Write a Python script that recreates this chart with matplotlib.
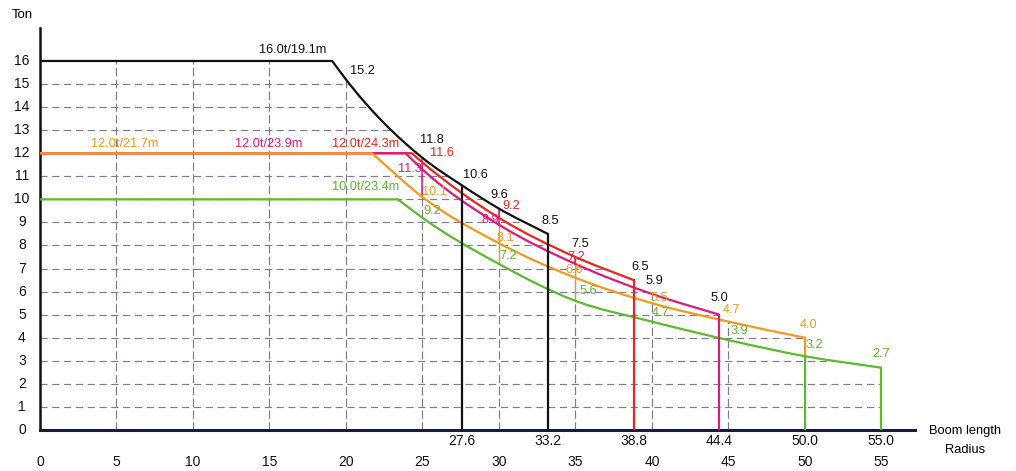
import numpy as np
import matplotlib
matplotlib.use("Agg")
import matplotlib.pyplot as plt
from matplotlib.patches import Polygon, PathPatch
from matplotlib.path import Path

plt.rcParams['font.family'] = ['Liberation Sans', 'DejaVu Sans']

# ---- data (radius m, load t) ----
black_r = [0, 19.1, 20, 25, 27.6, 30, 33.2]
black_t = [16, 16, 15.2, 11.8, 10.6, 9.6, 8.5]
red_r = [0, 24.3, 25, 30, 35, 38.8]
red_t = [12, 12, 11.6, 9.2, 7.5, 6.5]
magenta_r = [0, 23.9, 25, 30, 35, 40, 44.4]
magenta_t = [12, 12, 11.3, 8.9, 7.2, 5.9, 5.0]
orange_r = [0, 21.7, 25, 30, 35, 40, 45, 50]
orange_t = [12, 12, 10.1, 8.1, 6.6, 5.5, 4.7, 4.0]
green_r = [0, 23.4, 25, 30, 35, 40, 45, 50, 55]
green_t = [10, 10, 9.2, 7.2, 5.6, 4.7, 3.9, 3.2, 2.7]

boom_lengths = [27.6, 33.2, 38.8, 44.4, 50.0, 55.0]
boom_labels = ['27.6', '33.2', '38.8', '44.4', '50.0', '55.0']
radius_ticks = [0, 5, 10, 15, 20, 25, 30, 35, 40, 45, 50, 55]
ton_ticks = list(range(0, 17))

head_labels = ['16.0t/19.1m', '12.0t/21.7m', '12.0t/23.9m', '12.0t/24.3m', '10.0t/23.4m']

BLACK = '#111111'
RED = '#e8261c'
MAG = '#d81b84'
ORA = '#f39a1e'
GRN = '#5db92f'
GRID = '#7d7a92'

W, H = 1016, 471
fig = plt.figure(figsize=(W / 100, H / 100), dpi=100)
ax = fig.add_axes([40 / W, 41 / H, 875 / W, 402 / H])
ax.set_xlim(0, 57.2)
ax.set_ylim(0, 17.43)
for s in ['top', 'right']:
    ax.spines[s].set_visible(False)
ax.spines['left'].set_linewidth(1.8)
ax.spines['left'].set_color(BLACK)
ax.spines['bottom'].set_linewidth(2.2)
ax.spines['bottom'].set_color('#1a1a3a')
ax.set_xticks([])
ax.set_yticks([])

curves = [(black_r, black_t, BLACK), (red_r, red_t, RED), (magenta_r, magenta_t, MAG),
          (orange_r, orange_t, ORA), (green_r, green_t, GRN)]


def smooth_path(r, t):
    """Straight flat part, then a smooth cubic Bezier path through the points."""
    x = np.asarray(r, float)
    y = np.asarray(t, float)
    verts = [(x[0], y[0]), (x[1], y[1])]
    codes = [Path.MOVETO, Path.LINETO]
    xs, ys = x[1:], y[1:]
    d = np.diff(ys) / np.diff(xs)
    m = np.empty(len(xs))
    m[0] = d[0]
    m[-1] = d[-1]
    for i in range(1, len(xs) - 1):
        h0, h1 = xs[i] - xs[i - 1], xs[i + 1] - xs[i]
        m[i] = (d[i - 1] * h1 + d[i] * h0) / (h0 + h1)
    for i in range(len(xs) - 1):
        h = xs[i + 1] - xs[i]
        verts += [(xs[i] + h / 3, ys[i] + m[i] * h / 3),
                  (xs[i + 1] - h / 3, ys[i + 1] - m[i + 1] * h / 3),
                  (xs[i + 1], ys[i + 1])]
        codes += [Path.CURVE4] * 3
    return Path(verts, codes)


# envelope for clipping grid
paths = [smooth_path(r, t) for r, t, c in curves]
gx = np.linspace(0, 55, 1101)
env = np.zeros_like(gx)
for p in paths:
    pts = p.to_polygons(closed_only=False)[0]
    order = np.argsort(pts[:, 0])
    vals = np.interp(gx, pts[order, 0], pts[order, 1], right=0.0)
    env = np.maximum(env, vals)
poly = Polygon(np.column_stack([np.r_[gx, 55, 0], np.r_[env, 0, 0]]), closed=True,
               transform=ax.transData, fill=False, edgecolor='none')
ax.add_patch(poly)

for yv in range(1, 16):
    ln, = ax.plot([0, 57], [yv, yv], color=GRID, lw=0.85, dashes=(6, 4), zorder=1)
    ln.set_clip_path(poly)
for xv in radius_ticks[1:]:
    ln, = ax.plot([xv, xv], [0, 16], color=GRID, lw=0.85, dashes=(7, 3), zorder=1)
    ln.set_clip_path(poly)

# coloured short verticals between curves at grid radii
for xv in [25, 30, 35]:
    top = np.interp(xv, black_r + [60], black_t + [0]) if xv < 33.2 else np.interp(xv, red_r, red_t)
    mv = np.interp(xv, magenta_r, magenta_t)
    ov = np.interp(xv, orange_r, orange_t)
    gv = np.interp(xv, green_r, green_t)
    low_m = ov if xv == 25 else mv
    ax.plot([xv, xv], [low_m, top], color=MAG, lw=1.1, zorder=2)
    if xv != 25:
        ax.plot([xv, xv], [gv, mv], color=ORA, lw=1.0, zorder=2)

# curves
for p, (r, t, c) in zip(paths, curves):
    ax.add_patch(PathPatch(p, fill=False, edgecolor=c, lw=1.6, zorder=3,
                           joinstyle='round', capstyle='butt'))

# drop lines at boom-length radii
ax.plot([black_r[4], black_r[4]], [0, black_t[4]], color=BLACK, lw=1.6, zorder=3)
ax.plot([black_r[-1], black_r[-1]], [0, black_t[-1]], color=BLACK, lw=1.6, zorder=3)
ax.plot([red_r[-1], red_r[-1]], [0, red_t[-1]], color=RED, lw=1.6, zorder=3)
ax.plot([magenta_r[-1], magenta_r[-1]], [0, magenta_t[-1]], color=MAG, lw=1.6, zorder=3)
ax.plot([orange_r[-1], orange_r[-1]], [green_t[-2], orange_t[-1]], color=ORA, lw=1.6, zorder=3)
ax.plot([green_r[-2], green_r[-2]], [0, green_t[-2]], color=GRN, lw=1.6, zorder=3)
ax.plot([green_r[-1], green_r[-1]], [0, green_t[-1]], color=GRN, lw=1.6, zorder=3)

FS = 9.2


def lab(x, y, txt, color, dx, dy):
    ax.annotate(txt, xy=(x, y), xytext=(dx, dy), textcoords='offset pixels',
                ha='center', va='center', color=color, fontsize=FS, zorder=5)


# headline labels
lab(black_r[1], black_t[1], head_labels[0], BLACK, -39, 11)
lab(orange_r[1], orange_t[1], head_labels[1], ORA, -247, 9)
lab(magenta_r[1], magenta_t[1], head_labels[2], MAG, -137, 9)
lab(red_r[1], red_t[1], head_labels[3], RED, -46, 9)
lab(green_r[1], green_t[1], head_labels[4], GRN, -32, 12)

fmt = lambda v: f"{v:.1f}"
lab(black_r[2], black_t[2], fmt(black_t[2]), BLACK, 16, 8)
lab(black_r[3], black_t[3], fmt(black_t[3]), BLACK, 9, 18)
lab(black_r[4], black_t[4], fmt(black_t[4]), BLACK, 13, 11)
lab(black_r[5], black_t[5], fmt(black_t[5]), BLACK, 0, 14)
lab(black_r[6], black_t[6], fmt(black_t[6]), BLACK, 2, 13)

lab(red_r[2], red_t[2], fmt(red_t[2]), RED, 19, 9)
lab(red_r[3], red_t[3], fmt(red_t[3]), RED, 12, 12)
lab(red_r[4], red_t[4], fmt(red_t[4]), BLACK, 5, 13)
lab(red_r[5], red_t[5], fmt(red_t[5]), BLACK, 7, 13)

lab(magenta_r[2], magenta_t[2], fmt(magenta_t[2]), MAG, -13, 0)
lab(magenta_r[3], magenta_t[3], fmt(magenta_t[3]), MAG, -9, 5)
lab(magenta_r[4], magenta_t[4], fmt(magenta_t[4]), MAG, 1, 7)
lab(magenta_r[5], magenta_t[5], fmt(magenta_t[5]), BLACK, 3, 13)
lab(magenta_r[6], magenta_t[6], fmt(magenta_t[6]), BLACK, 0, 17)

lab(orange_r[2], orange_t[2], fmt(orange_t[2]), ORA, 12, 5)
lab(orange_r[3], orange_t[3], fmt(orange_t[3]), ORA, 6, 5)
lab(orange_r[4], orange_t[4], fmt(orange_t[4]), ORA, -1, 8)
lab(orange_r[5], orange_t[5], fmt(orange_t[5]), ORA, 8, 5)
lab(orange_r[6], orange_t[6], fmt(orange_t[6]), ORA, 3, 12)
lab(orange_r[7], orange_t[7], fmt(orange_t[7]), ORA, 4, 13)

lab(green_r[2], green_t[2], fmt(green_t[2]), GRN, 10, 7)
lab(green_r[3], green_t[3], fmt(green_t[3]), GRN, 9, 8)
lab(green_r[4], green_t[4], fmt(green_t[4]), GRN, 13, 10)
lab(green_r[5], green_t[5], fmt(green_t[5]), GRN, 9, 9)
lab(green_r[6], green_t[6], fmt(green_t[6]), GRN, 11, 9)
lab(green_r[7], green_t[7], fmt(green_t[7]), GRN, 9, 11)
lab(green_r[8], green_t[8], fmt(green_t[8]), GRN, 0, 14)

# axis tick labels
TFS = 10
for v in ton_ticks:
    ax.annotate(str(v), xy=(0, v), xytext=(-18, 0), textcoords='offset pixels',
                ha='center', va='center', fontsize=TFS, color=BLACK)
for v in radius_ticks:
    ax.annotate(str(v), xy=(v, 0), xytext=(0, -32), textcoords='offset pixels',
                ha='center', va='center', fontsize=TFS, color=BLACK)
for v, s in zip(boom_lengths, boom_labels):
    ax.annotate(s, xy=(v, 0), xytext=(0, -11), textcoords='offset pixels',
                ha='center', va='center', fontsize=TFS, color=BLACK)

fig.text(22 / W, 1 - 15 / H, 'Ton', ha='center', va='center', fontsize=9.5)
fig.text(965 / W, 1 - 431 / H, 'Boom length', ha='center', va='center', fontsize=9.3)
fig.text(965 / W, 1 - 450 / H, 'Radius', ha='center', va='center', fontsize=9.3)

fig.savefig('out.png', dpi=100, facecolor='white')
